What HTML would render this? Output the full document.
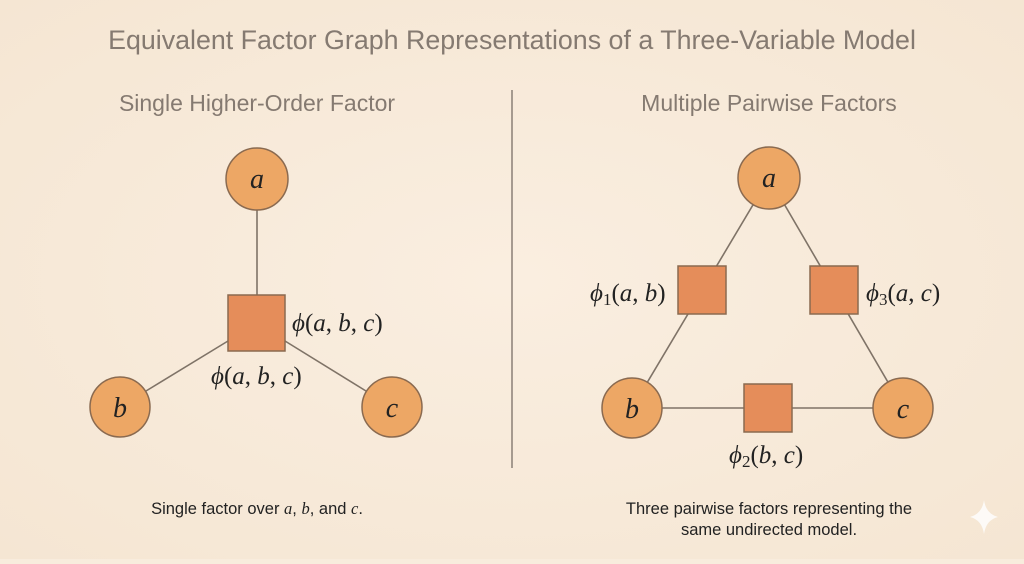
<!DOCTYPE html>
<html><head><style>
body{margin:0;width:1024px;height:559px;overflow:hidden;background:#f8ecdd;font-family:"Liberation Sans",sans-serif}
</style></head><body>
<svg width="1024" height="559" xmlns="http://www.w3.org/2000/svg">
<defs><radialGradient id="bg" cx="50%" cy="50%" r="70%"><stop offset="0" stop-color="#faeee0"/><stop offset="1" stop-color="#f5e6d3"/></radialGradient></defs>
<rect width="1024" height="559" fill="url(#bg)"/>
<text x="512" y="49" text-anchor="middle" font-size="26.8" fill="#857a71" font-family="Liberation Sans, sans-serif">Equivalent Factor Graph Representations of a Three-Variable Model</text>
<text x="257" y="111" text-anchor="middle" font-size="23" fill="#857a71">Single Higher-Order Factor</text>
<text x="769" y="111" text-anchor="middle" font-size="23" fill="#857a71">Multiple Pairwise Factors</text>
<line x1="512" y1="90" x2="512" y2="468" stroke="#8a7f76" stroke-width="1.5"/>
<g stroke="#7f7367" stroke-width="1.6">
<line x1="257" y1="209" x2="257" y2="295"/>
<line x1="228" y1="341" x2="146" y2="391"/>
<line x1="285" y1="341" x2="366" y2="391"/>
<line x1="769" y1="178" x2="632" y2="408"/>
<line x1="769" y1="178" x2="903" y2="408"/>
<line x1="632" y1="408" x2="903" y2="408"/>
</g>
<g fill="#eda765" stroke="#8a6a50" stroke-width="1.5">
<circle cx="257" cy="179" r="31"/><circle cx="120" cy="407" r="30"/><circle cx="392" cy="407" r="30"/>
<circle cx="769" cy="178" r="31"/><circle cx="632" cy="408" r="30"/><circle cx="903" cy="408" r="30"/>
</g>
<g fill="#e58d5a" stroke="#8a6a50" stroke-width="1.5">
<rect x="228" y="295" width="57" height="56"/>
<rect x="678" y="266" width="48" height="48"/>
<rect x="810" y="266" width="48" height="48"/>
<rect x="744" y="384" width="48" height="48"/>
</g>
<g font-family="Liberation Serif, serif" font-style="italic" font-size="28" fill="#222" text-anchor="middle">
<text x="257" y="188">a</text><text x="120" y="417">b</text><text x="392" y="417">c</text>
<text x="769" y="187">a</text><text x="632" y="418">b</text><text x="903" y="418">c</text>
</g>
<g font-family="Liberation Serif, serif" font-size="25" fill="#222">
<text x="292" y="331"><tspan font-style="italic">ϕ</tspan>(<tspan font-style="italic">a</tspan>, <tspan font-style="italic">b</tspan>, <tspan font-style="italic">c</tspan>)</text>
<text x="211" y="384"><tspan font-style="italic">ϕ</tspan>(<tspan font-style="italic">a</tspan>, <tspan font-style="italic">b</tspan>, <tspan font-style="italic">c</tspan>)</text>
<text x="590" y="301"><tspan font-style="italic">ϕ</tspan><tspan font-size="17" dy="4">1</tspan><tspan dy="-4">(</tspan><tspan font-style="italic">a</tspan>, <tspan font-style="italic">b</tspan>)</text>
<text x="866" y="301"><tspan font-style="italic">ϕ</tspan><tspan font-size="17" dy="4">3</tspan><tspan dy="-4">(</tspan><tspan font-style="italic">a</tspan>, <tspan font-style="italic">c</tspan>)</text>
<text x="729" y="463"><tspan font-style="italic">ϕ</tspan><tspan font-size="17" dy="4">2</tspan><tspan dy="-4">(</tspan><tspan font-style="italic">b</tspan>, <tspan font-style="italic">c</tspan>)</text>
</g>
<g font-size="16.5" fill="#222" text-anchor="middle">
<text x="257" y="514">Single factor over <tspan font-family="Liberation Serif, serif" font-style="italic">a</tspan>, <tspan font-family="Liberation Serif, serif" font-style="italic">b</tspan>, and <tspan font-family="Liberation Serif, serif" font-style="italic">c</tspan>.</text>
<text x="769" y="514">Three pairwise factors representing the</text>
<text x="769" y="535">same undirected model.</text>
</g>
<path d="M984 500 Q986 514 998 517 Q986 520 984 534 Q982 520 970 517 Q982 514 984 500Z" fill="#fff" opacity="0.8"/>
</svg>
</body></html>
